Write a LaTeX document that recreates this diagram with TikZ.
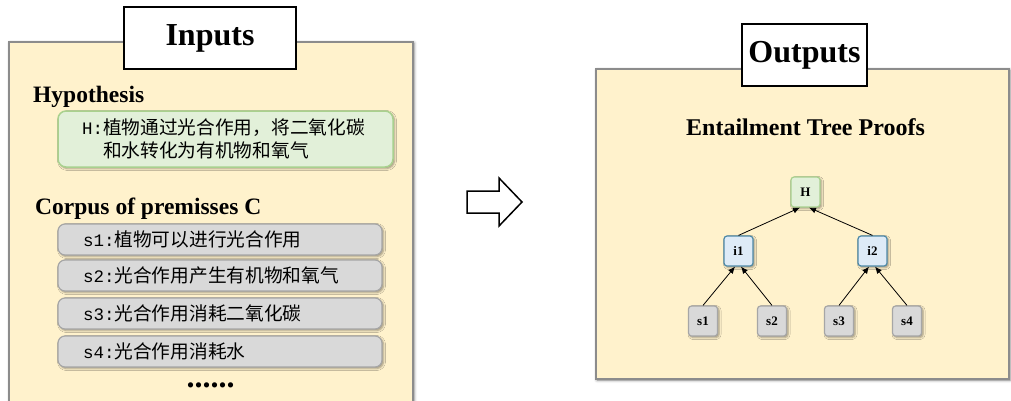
\documentclass[tikz,border=0pt]{standalone}
\usepackage{fontspec}
\setmainfont{Liberation Serif}
\newfontfamily\cjkf{Noto Sans CJK SC}
\newfontfamily\monof{Liberation Mono}
\usetikzlibrary{arrows.meta,shadows.blur}
\definecolor{panelfill}{HTML}{FFF2CC}
\definecolor{paneldraw}{HTML}{8C8C8C}
\definecolor{hypfill}{HTML}{E2F0D9}
\definecolor{hypdraw}{HTML}{A9D18E}
\definecolor{premfill}{HTML}{D9D9D9}
\definecolor{premdraw}{HTML}{A6A6A6}
\definecolor{ifill}{HTML}{DEEBF7}
\definecolor{idraw}{HTML}{4E8AA8}
\newcommand{\pre}[1]{{\monof\fontsize{17.5}{20}\selectfont #1}}
\tikzset{
  panel/.style={fill=panelfill,draw=paneldraw,line width=1.5pt,
    blur shadow={shadow xshift=1pt,shadow yshift=-1pt,shadow blur radius=3pt,shadow opacity=50}},
  titlebox/.style={fill=white,draw=black,line width=1.5pt,inner sep=0pt,
    minimum height=62pt,font=\fontsize{32}{36}\selectfont\bfseries},
  hypbox/.style={fill=hypfill,draw=hypdraw,line width=1.5pt,rounded corners=8pt,
    text width=287pt,inner xsep=24pt,minimum height=56pt,align=left,
    font=\fontsize{18.7}{22.5}\selectfont,
    blur shadow={shadow xshift=1.5pt,shadow yshift=-1.5pt,shadow blur radius=2pt}},
  premise/.style={fill=premfill,draw=premdraw,line width=1.2pt,rounded corners=7pt,
    text width=274pt,inner xsep=25pt,minimum height=31pt,align=left,inner ysep=0pt,
    font=\fontsize{18.7}{22}\selectfont,
    blur shadow={shadow xshift=1.5pt,shadow yshift=-1.5pt,shadow blur radius=2pt}},
  heading/.style={font=\fontsize{23.5}{26}\selectfont\bfseries,inner sep=0pt},
  tnode/.style={line width=1.2pt,rounded corners=3pt,minimum width=29pt,minimum height=30pt,
    inner sep=0pt,font=\fontsize{13}{15}\selectfont\bfseries,
    blur shadow={shadow xshift=1.5pt,shadow yshift=-1.5pt,shadow blur radius=2pt}},
  treeH/.style={tnode,fill=hypfill,draw=hypdraw},
  treeI/.style={tnode,fill=ifill,draw=idraw},
  treeS/.style={tnode,fill=premfill,draw=premdraw},
  edge/.style={-{Latex[length=7pt,width=6pt]},line width=0.8pt,black},
}
\begin{document}
\begin{tikzpicture}[x=1pt,y=-1pt]
\useasboundingbox (0,0) rectangle (1011,400);
% left panel
\begin{scope}
\clip (0,0) rectangle (1011,400);
\path[panel] (9,42) rectangle (413,430);
\end{scope}
\node[titlebox,minimum width=172pt] (inputs) at (210,38) {Inputs};
\node[heading,anchor=base west] (hyp) at (33,102) {Hypothesis};
\node[hypbox] (hbox) at (225.5,139) {\pre{H:}{\cjkf 植物通过光合作用，将二氧化碳}\\\hphantom{\pre{H:}}{\cjkf 和水转化为有机物和氧气}};
\node[heading,anchor=base west] (corpus) at (35,214) {Corpus of premisses C};
\node[premise] (p1) at (220,239.5) {\pre{s1:}{\cjkf 植物可以进行光合作用}};
\node[premise] (p2) at (220,275.5) {\pre{s2:}{\cjkf 光合作用产生有机物和氧气}};
\node[premise] (p3) at (220,313.5) {\pre{s3:}{\cjkf 光合作用消耗二氧化碳}};
\node[premise] (p4) at (220,351.5) {\pre{s4:}{\cjkf 光合作用消耗水}};
\node[font=\fontsize{32}{36}\selectfont\bfseries,anchor=base,inner sep=0pt] (dots) at (210.5,387) {......};
% block arrow
\draw[line width=1.5pt,fill=white,line join=miter] (467,191) -- (499,191) -- (499,178) -- (522,202) -- (499,226) -- (499,213) -- (467,213) -- cycle;
% right panel
\path[panel] (596,69) rectangle (1009,379);
\node[titlebox,minimum width=125pt] (outputs) at (804.5,55) {Outputs};
\node[heading,font=\fontsize{24}{26}\selectfont\bfseries,anchor=base] (etp) at (805.5,135) {Entailment Tree Proofs};
% tree
\node[treeH] (H) at (805.5,192) {H};
\node[treeI] (i1) at (738.5,251) {i1};
\node[treeI] (i2) at (872.5,251) {i2};
\node[treeS] (s1) at (703,321) {s1};
\node[treeS] (s2) at (772,321) {s2};
\node[treeS] (s3) at (839,321) {s3};
\node[treeS] (s4) at (907,321) {s4};
\draw[edge] (s1.north) -- ([xshift=-3.5pt]i1.south);
\draw[edge] (s2.north) -- ([xshift=2.5pt]i1.south);
\draw[edge] (s3.north) -- ([xshift=-3.5pt]i2.south);
\draw[edge] (s4.north) -- ([xshift=2.5pt]i2.south);
\draw[edge] (i1.north) -- ([xshift=-5.5pt]H.south);
\draw[edge] (i2.north) -- ([xshift=3.5pt]H.south);
\end{tikzpicture}
\end{document}
